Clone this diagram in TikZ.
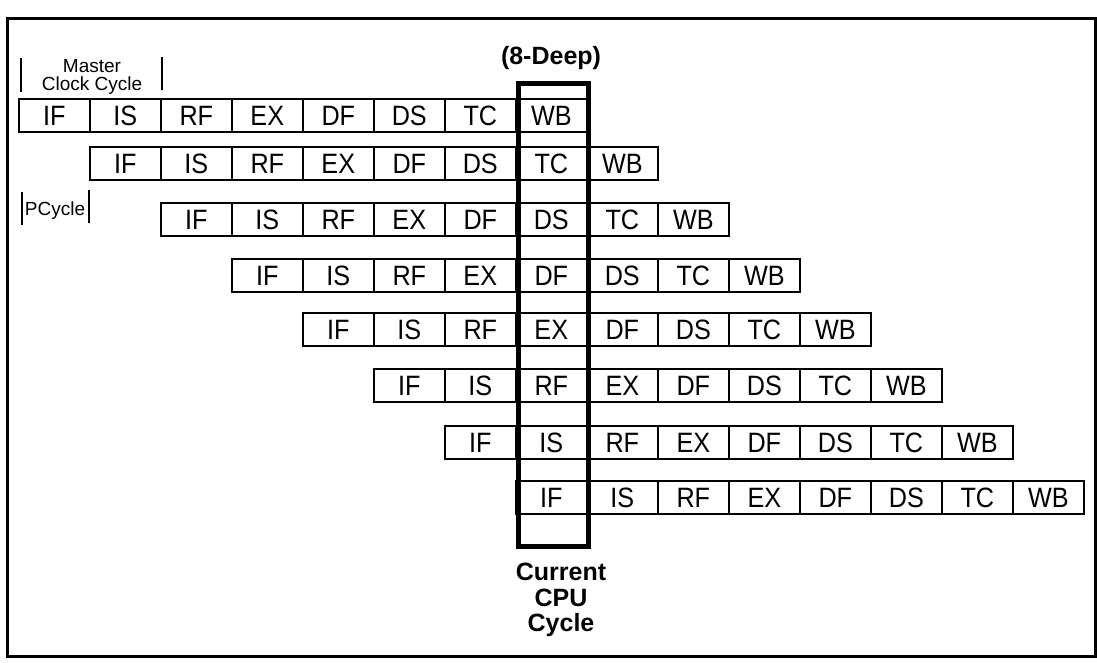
\documentclass[tikz,border=0pt]{standalone}
\usepackage{fontspec}
\setmainfont{Liberation Sans}
\newfontfamily\cellfont[FakeStretch=0.9]{Liberation Sans}
\begin{document}
\begin{tikzpicture}[x=1pt,y=-1pt,
  cell/.style={draw,line width=1.6pt,minimum width=71pt,minimum height=33pt,inner sep=0pt,
    anchor=north west,font=\cellfont\fontsize{28}{28}\selectfont,text height=20pt,text depth=0pt},
  curbox/.style={draw,line width=5pt,minimum width=70pt,minimum height=463pt,inner sep=0pt,anchor=north west},
  bar/.style={line width=1.5pt},
  small/.style={font=\fontsize{19}{18}\selectfont,inner sep=0pt},
  bold/.style={font=\bfseries\fontsize{25}{25.5}\selectfont,inner sep=0pt}]
\useasboundingbox (0,0) rectangle (1097,662);
\draw[line width=3pt] (7,18) rectangle (1095,656);
\foreach \r/\y in {1/98,2/146,3/202,4/258,5/312,6/368,7/425,8/480}{
  \foreach \s [count=\c] in {IF,IS,RF,EX,DF,DS,TC,WB}{
    \node[cell] (r\r c\c) at ({18+71*(\r-1)+71*(\c-1)},\y) {\s};
  }
}
\node[curbox] (cur) at (516,81) {};
\node[bold,font=\bfseries\fontsize{25}{25}\selectfont,anchor=base] (deep) at (551,64) {(8-Deep)};
\node[bold,align=center,anchor=north] (curlbl) at (561,563) {Current\\CPU\\Cycle};
\node[small,align=center,anchor=north] (master) at (92,59) {Master\\Clock Cycle};
\node[small,anchor=base] (pcycle) at (55,215) {PCycle};
\draw[bar] (21,58) -- (21,92);
\draw[bar] (162,57) -- (162,90);
\draw[bar] (22,192) -- (22,225);
\draw[bar] (89,190) -- (89,223);
\end{tikzpicture}
\end{document}
